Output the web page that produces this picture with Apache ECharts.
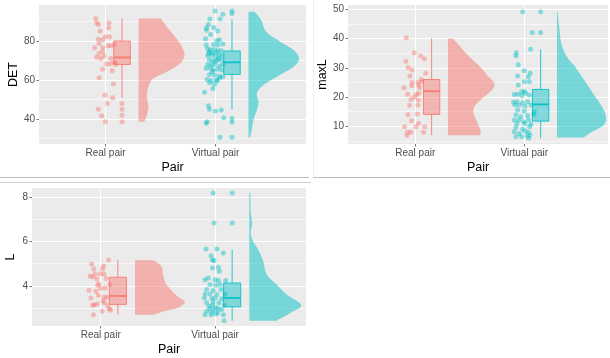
<!DOCTYPE html>
<html>
<head>
<meta charset="utf-8">
<script src="https://cdn.jsdelivr.net/npm/echarts@6.0.0/dist/echarts.min.js"></script>
<style>
html,body{margin:0;padding:0;background:#ffffff;}
#chart{width:610px;height:358px;}
</style>
</head>
<body>
<div id="chart"></div>
<script>
// ---------------- DATA ----------------
const categories = ['Real pair', 'Virtual pair'];
const xTickValues = [1, 2];

// DET panel
const detTicks = [40, 60, 80];
const detMinorTicks = [30, 50, 70, 90];
const detRealValues = [91.6, 89.4, 88.5, 89.4, 86.8, 85.1, 82.2, 80.9, 80.7, 82.2, 78.8, 76.6, 76.6, 77.6, 77.6, 78.3, 74.5, 73.7, 71.8, 72.3, 71.1, 71.1, 69.1, 68.2, 68.4, 68.0, 65.5, 64.8, 61.2, 58.0, 52.3, 50.9, 48.0, 45.0, 41.7, 38.6];
const detRealJitter = [-0.089, -0.080, -0.065, 0.032, 0.029, -0.050, -0.002, -0.065, -0.026, 0.038, -0.059, -0.098, -0.026, 0.023, 0.047, 0.080, -0.026, -0.059, -0.080, -0.014, -0.044, 0.047, 0.083, 0.011, 0.047, 0.095, -0.026, 0.062, -0.059, 0.071, -0.005, 0.065, 0.017, -0.065, -0.035, -0.002];
const detRealBox = [50.9, 68.0, 71.6, 80.0, 91.6];
const detRealOutliers = [48.0, 45.0, 41.9, 38.6];
const detRealViolinY = [91.6, 87.3, 82.2, 77.1, 72.8, 68.5, 64.3, 60.9, 56.6, 51.5, 46.3, 42.1, 38.6];
const detRealViolinW = [0.204, 0.258, 0.333, 0.394, 0.418, 0.379, 0.258, 0.136, 0.091, 0.076, 0.091, 0.076, 0.052];

const detVirtValues = [95.4, 93.8, 91.3, 91.3, 86.8, 87.0, 85.6, 85.1, 81.2, 80.2, 80.7, 78.3, 78.5, 76.1, 75.6, 75.7, 75.0, 75.0, 74.4, 73.7, 74.0, 72.5, 72.7, 72.0, 72.8, 72.5, 70.3, 69.9, 70.1, 70.3, 68.0, 67.7, 67.9, 67.2, 68.0, 66.0, 65.1, 65.6, 62.9, 62.6, 62.1, 61.7, 60.3, 59.8, 60.2, 61.0, 58.6, 57.8, 53.7, 46.8, 45.0, 44.1, 44.6, 40.7, 38.6, 37.8, 30.6, 78.0, 73.7, 71.1, 69.4, 64.3, 65.1, 66.0, 59.5, 55.7, 78.0, 83.4, 88.5];
const detVirtJitter = [-0.003, 0.067, 0.042, -0.052, -0.082, -0.015, -0.082, 0.021, -0.091, 0.012, 0.036, -0.018, 0.067, -0.070, -0.045, -0.009, 0.021, 0.052, -0.055, -0.024, 0.006, -0.070, -0.033, 0.003, 0.036, 0.058, -0.055, -0.024, 0.015, 0.052, -0.070, -0.039, -0.009, 0.036, 0.067, -0.045, -0.018, 0.021, -0.055, -0.009, 0.036, 0.067, -0.076, -0.039, 0.009, 0.039, -0.055, -0.009, -0.100, -0.064, -0.055, 0.000, 0.052, 0.076, -0.076, -0.085, 0.042, -0.085, -0.064, 0.027, -0.003, -0.030, 0.058, -0.085, 0.015, -0.024, 0.021, -0.045, -0.064];
const detVirtBox = [45.0, 62.9, 69.1, 74.9, 91.1];
const detVirtOutliers = [95.4, 94.2, 40.3, 38.3, 30.6];
const detVirtViolinY = [95.0, 90.8, 84.8, 79.7, 75.4, 71.1, 66.8, 61.7, 57.4, 53.2, 48.9, 44.6, 39.5, 34.4, 30.4];
const detVirtViolinW = [0.055, 0.115, 0.161, 0.288, 0.409, 0.460, 0.409, 0.258, 0.136, 0.076, 0.091, 0.076, 0.045, 0.030, 0.010];

// maxL panel
const maxlTicks = [10, 20, 30, 40, 50];
const maxlMinorTicks = [5, 15, 25, 35, 45];
const maxlRealValues = [40.2, 35.1, 34.1, 33.1, 32.2, 30.1, 29.2, 28.1, 27.2, 26.1, 25.0, 25.0, 25.2, 24.1, 23.2, 23.9, 23.2, 20.9, 21.0, 21.3, 19.2, 19.9, 19.0, 17.2, 17.3, 14.0, 14.2, 11.9, 11.1, 9.9, 9.9, 9.9, 8.0, 8.0, 8.0, 7.0];
const maxlRealJitter = [-0.083, -0.009, 0.049, 0.083, -0.086, -0.067, -0.031, 0.095, -0.049, 0.055, -0.031, 0.024, 0.061, 0.031, -0.104, -0.031, 0.040, 0.009, -0.070, 0.031, -0.040, -0.009, 0.028, -0.052, 0.024, -0.067, 0.018, -0.034, 0.031, -0.098, 0.006, 0.086, -0.040, -0.070, 0.076, -0.076];
const maxlRealBox = [7.0, 14.1, 22.0, 26.0, 40.0];
const maxlRealOutliers = [];
const maxlRealViolinY = [40.0, 37.2, 33.7, 30.3, 26.9, 24.4, 21.8, 19.0, 16.7, 14.4, 11.6, 8.7, 7.0];
const maxlRealViolinW = [0.046, 0.113, 0.199, 0.297, 0.373, 0.428, 0.388, 0.297, 0.242, 0.235, 0.266, 0.297, 0.297];

const maxlVirtValues = [49.1, 42.0, 36.3, 35.1, 34.1, 31.0, 29.0, 28.1, 27.2, 26.9, 25.2, 25.2, 24.1, 22.0, 21.8, 21.0, 21.3, 20.9, 20.5, 20.7, 18.2, 18.4, 18.1, 18.4, 17.3, 17.3, 16.9, 17.3, 15.6, 15.2, 15.0, 13.9, 13.3, 13.6, 14.1, 12.2, 12.2, 11.6, 12.2, 11.0, 11.0, 10.7, 9.6, 9.1, 9.9, 8.2, 7.6, 8.4, 8.0, 6.5, 6.5, 6.8, 7.1, 6.0];
const maxlVirtJitter = [-0.015, 0.073, 0.058, -0.073, -0.076, -0.055, 0.000, 0.055, -0.061, 0.037, 0.000, 0.046, -0.055, 0.000, -0.024, -0.061, 0.012, -0.092, -0.021, 0.046, -0.098, -0.067, -0.015, 0.031, -0.086, -0.046, 0.006, 0.061, -0.061, 0.000, 0.092, -0.076, -0.031, 0.031, 0.086, -0.092, -0.049, -0.006, 0.040, -0.067, 0.006, 0.061, -0.076, -0.015, 0.049, -0.092, -0.046, 0.006, 0.037, -0.076, -0.024, 0.024, 0.052, 0.040];
const maxlVirtBox = [6.0, 11.8, 17.5, 22.6, 36.3];
const maxlVirtOutliers = [49.1, 42.0];
const maxlVirtViolinY = [49.1, 44.0, 38.3, 33.7, 30.3, 26.9, 23.5, 20.1, 16.7, 13.3, 10.4, 8.2, 6.2];
const maxlVirtViolinW = [0.005, 0.021, 0.040, 0.092, 0.168, 0.229, 0.291, 0.352, 0.413, 0.450, 0.428, 0.321, 0.245];

// L panel
const lTicks = [4, 6, 8];
const lMinorTicks = [3, 5, 7];
const lRealValues = [5.17, 4.99, 4.90, 4.76, 4.76, 4.45, 4.54, 4.54, 4.54, 4.40, 4.31, 4.33, 4.09, 4.06, 4.03, 3.88, 3.81, 3.91, 3.76, 3.58, 3.46, 3.49, 3.49, 3.34, 3.16, 3.13, 3.19, 3.24, 3.12, 2.98, 2.91, 2.86, 2.71];
const lRealJitter = [0.070, -0.079, 0.026, -0.061, 0.015, -0.093, -0.050, -0.006, 0.029, -0.070, -0.035, 0.047, -0.015, 0.082, -0.026, 0.000, -0.102, 0.038, -0.041, -0.020, -0.085, 0.029, 0.053, 0.018, -0.055, -0.070, -0.029, 0.032, 0.061, 0.076, 0.085, 0.012, -0.064];
const lRealBox = [2.71, 3.17, 3.55, 4.39, 5.17];
const lRealOutliers = [];
const lRealViolinY = [5.15, 4.88, 4.51, 4.14, 3.84, 3.54, 3.28, 3.01, 2.86, 2.71];
const lRealViolinW = [0.166, 0.230, 0.245, 0.265, 0.312, 0.370, 0.437, 0.370, 0.254, 0.166];

const lVirtValues = [8.18, 6.83, 5.66, 5.66, 5.48, 5.36, 5.17, 5.14, 4.84, 4.81, 4.66, 4.36, 4.28, 4.28, 4.24, 4.24, 4.06, 4.03, 4.06, 3.84, 3.84, 3.79, 3.64, 3.64, 3.61, 3.64, 3.46, 3.43, 3.46, 3.42, 3.24, 3.28, 3.24, 3.09, 3.13, 3.04, 3.13, 2.98, 2.94, 2.98, 2.94, 2.86, 2.82, 2.79, 2.71, 2.71, 2.74, 2.71, 2.44];
const lVirtJitter = [-0.017, -0.009, -0.079, 0.017, 0.073, -0.035, -0.023, -0.009, 0.029, -0.023, 0.038, -0.058, -0.087, 0.000, 0.029, 0.093, -0.044, 0.006, 0.044, 0.052, -0.073, -0.015, -0.087, -0.044, 0.015, 0.087, -0.093, -0.029, 0.000, 0.058, -0.073, -0.015, 0.035, -0.052, -0.023, 0.006, 0.082, -0.044, -0.006, 0.029, 0.058, -0.073, -0.029, 0.023, -0.087, -0.035, 0.006, 0.073, 0.079];
const lVirtBox = [2.44, 3.06, 3.46, 4.13, 5.63];
const lVirtOutliers = [8.18, 6.83];
const lVirtViolinY = [8.18, 7.36, 6.82, 6.38, 6.00, 5.63, 5.11, 4.51, 4.06, 3.61, 3.16, 2.86, 2.44];
const lVirtViolinW = [0.010, 0.012, 0.025, 0.012, 0.035, 0.079, 0.122, 0.152, 0.239, 0.327, 0.452, 0.385, 0.239];

// ---------------- STYLE / LAYOUT ----------------
const FONT = '"Liberation Sans", Arial, Helvetica, sans-serif';
const COLORS = ['#F8766D', '#00BFC4'];
const BOX_OFFSET = 0.15, BOX_WIDTH = 0.15, VIOLIN_OFFSET = 0.3;

function rgba(hex, a) {
  const n = parseInt(hex.slice(1), 16);
  return 'rgba(' + ((n >> 16) & 255) + ',' + ((n >> 8) & 255) + ',' + (n & 255) + ',' + a + ')';
}

const panels = [
  {
    title: 'DET', grid: { left: 39, top: 5, width: 267, height: 139 },
    xMin: 0.395, xMax: 2.823, yMin: 27.2, yMax: 98.5, ticks: detTicks, minor: detMinorTicks, nameGap: 17,
    groups: [
      { values: detRealValues, jitter: detRealJitter, box: detRealBox, outliers: detRealOutliers, vy: detRealViolinY, vw: detRealViolinW },
      { values: detVirtValues, jitter: detVirtJitter, box: detVirtBox, outliers: detVirtOutliers, vy: detVirtViolinY, vw: detVirtViolinW }
    ]
  },
  {
    title: 'maxL', grid: { left: 348, top: 5, width: 260, height: 139 },
    xMin: 0.383, xMax: 2.768, yMin: 4.0, yMax: 51.4, ticks: maxlTicks, minor: maxlMinorTicks, nameGap: 18,
    groups: [
      { values: maxlRealValues, jitter: maxlRealJitter, box: maxlRealBox, outliers: maxlRealOutliers, vy: maxlRealViolinY, vw: maxlRealViolinW },
      { values: maxlVirtValues, jitter: maxlVirtJitter, box: maxlVirtBox, outliers: maxlVirtOutliers, vy: maxlVirtViolinY, vw: maxlVirtViolinW }
    ]
  },
  {
    title: 'L', grid: { left: 32, top: 188, width: 274, height: 138 },
    xMin: 0.399, xMax: 2.796, yMin: 2.2, yMax: 8.4, ticks: lTicks, minor: lMinorTicks, nameGap: 15,
    groups: [
      { values: lRealValues, jitter: lRealJitter, box: lRealBox, outliers: lRealOutliers, vy: lRealViolinY, vw: lRealViolinW },
      { values: lVirtValues, jitter: lVirtJitter, box: lVirtBox, outliers: lVirtOutliers, vy: lVirtViolinY, vw: lVirtViolinW }
    ]
  }
];

function smoothPath(start, pts, end) {
  let d = 'M' + start[0] + ',' + start[1] + ' L' + pts[0][0] + ',' + pts[0][1];
  for (let i = 0; i < pts.length - 1; i++) {
    const p0 = pts[i - 1] || pts[i], p1 = pts[i], p2 = pts[i + 1], p3 = pts[i + 2] || pts[i + 1];
    const c1 = [p1[0] + (p2[0] - p0[0]) / 6, p1[1] + (p2[1] - p0[1]) / 6];
    const c2 = [p2[0] - (p3[0] - p1[0]) / 6, p2[1] - (p3[1] - p1[1]) / 6];
    d += ' C' + c1[0] + ',' + c1[1] + ' ' + c2[0] + ',' + c2[1] + ' ' + p2[0] + ',' + p2[1];
  }
  d += ' L' + end[0] + ',' + end[1] + ' Z';
  return d;
}

const grids = [], xAxes = [], yAxes = [], series = [];

panels.forEach(function (p, gi) {
  grids.push(Object.assign({ show: true, backgroundColor: '#EBEBEB', borderWidth: 0, containLabel: false, outerBoundsMode: 'none' }, p.grid));
  xAxes.push({
    type: 'value', gridIndex: gi, min: p.xMin, max: p.xMax,
    name: 'Pair', nameLocation: 'middle', nameGap: 17,
    nameTextStyle: { fontFamily: FONT, fontSize: 12.5, color: '#000' },
    axisLine: { show: false },
    axisTick: { show: true, length: 2.5, customValues: xTickValues, lineStyle: { color: '#777', width: 1 } },
    axisLabel: { show: true, customValues: xTickValues, margin: 4, fontFamily: FONT, fontSize: 10, color: '#4D4D4D',
      formatter: function (v) { return categories[Math.round(v) - 1]; } },
    splitLine: { show: true, lineStyle: { color: '#FFFFFF', width: 1 } }
  });
  yAxes.push({
    type: 'value', gridIndex: gi, min: p.yMin, max: p.yMax,
    name: p.title, nameLocation: 'middle', nameGap: p.nameGap, nameRotate: 90,
    nameTextStyle: { fontFamily: FONT, fontSize: 12.5, color: '#000' },
    axisLine: { show: false },
    axisTick: { show: true, length: 2.5, customValues: p.ticks, lineStyle: { color: '#777', width: 1 } },
    axisLabel: { show: true, customValues: p.ticks, margin: 4, fontFamily: FONT, fontSize: 10, color: '#4D4D4D' },
    splitLine: { show: true, lineStyle: { color: '#FFFFFF', width: 1 } }
  });
});
panels.forEach(function (p, gi) {
  yAxes.push({
    type: 'value', gridIndex: gi, min: p.yMin, max: p.yMax,
    axisLine: { show: false },
    axisTick: { show: false, customValues: p.minor },
    axisLabel: { show: false, customValues: p.minor },
    splitLine: { show: true, lineStyle: { color: 'rgba(255,255,255,0.55)', width: 1 } }
  });
});

panels.forEach(function (p, gi) {
  p.groups.forEach(function (g, k) {
    const cat = k + 1;
    const col = COLORS[k];
    // half violin
    series.push({
      type: 'custom', xAxisIndex: gi, yAxisIndex: gi, silent: true, z: 2,
      data: [[cat + VIOLIN_OFFSET, g.vy[0]]],
      renderItem: function (params, api) {
        const base = api.value(0);
        const curve = g.vy.map(function (y, i) { return api.coord([base + g.vw[i], y]); });
        const start = api.coord([base, g.vy[0]]);
        const end = api.coord([base, g.vy[g.vy.length - 1]]);
        return { type: 'path', shape: { pathData: smoothPath(start, curve, end) }, style: { fill: rgba(col, 0.5), stroke: null } };
      }
    });
    // boxplot
    series.push({
      type: 'custom', xAxisIndex: gi, yAxisIndex: gi, silent: true, z: 3,
      data: [[cat + BOX_OFFSET].concat(g.box)],
      encode: { x: 0, y: [1, 2, 3, 4, 5] },
      renderItem: function (params, api) {
        const x = api.value(0);
        const half = api.size([BOX_WIDTH, 0])[0] / 2;
        const pMin = api.coord([x, api.value(1)]);
        const pQ1 = api.coord([x, api.value(2)]);
        const pMed = api.coord([x, api.value(3)]);
        const pQ3 = api.coord([x, api.value(4)]);
        const pMax = api.coord([x, api.value(5)]);
        const lineStyle = { stroke: rgba(col, 0.85), lineWidth: 1 };
        return { type: 'group', children: [
          { type: 'line', shape: { x1: pMin[0], y1: pMin[1], x2: pQ1[0], y2: pQ1[1] }, style: lineStyle },
          { type: 'line', shape: { x1: pQ3[0], y1: pQ3[1], x2: pMax[0], y2: pMax[1] }, style: lineStyle },
          { type: 'rect', shape: { x: pQ3[0] - half, y: pQ3[1], width: half * 2, height: pQ1[1] - pQ3[1] },
            style: { fill: rgba(col, 0.45), stroke: rgba(col, 0.85), lineWidth: 1 } },
          { type: 'line', shape: { x1: pMed[0] - half, y1: pMed[1], x2: pMed[0] + half, y2: pMed[1] },
            style: { stroke: rgba(col, 0.9), lineWidth: 1.8 } }
        ] };
      }
    });
    // jittered points
    series.push({
      type: 'scatter', xAxisIndex: gi, yAxisIndex: gi, silent: true, z: 4,
      symbol: 'circle', symbolSize: 5,
      itemStyle: { color: rgba(col, 0.55) },
      data: g.values.map(function (v, i) { return [cat + g.jitter[i], v]; })
    });
    // boxplot outliers
    series.push({
      type: 'scatter', xAxisIndex: gi, yAxisIndex: gi, silent: true, z: 4,
      symbol: 'circle', symbolSize: 5,
      itemStyle: { color: rgba(col, 0.55) },
      data: g.outliers.map(function (v) { return [cat + BOX_OFFSET, v]; })
    });
  });
});

const chart = echarts.init(document.getElementById('chart'), null, { renderer: 'canvas' });
chart.setOption({
  animation: false,
  backgroundColor: '#FFFFFF',
  textStyle: { fontFamily: FONT },
  grid: grids,
  xAxis: xAxes,
  yAxis: yAxes,
  series: series,
  graphic: [
    { type: 'line', silent: true, shape: { x1: 0, y1: 177.5, x2: 309, y2: 177.5 }, style: { stroke: '#BDBDBD', lineWidth: 1 } },
    { type: 'line', silent: true, shape: { x1: 0, y1: 182.5, x2: 311, y2: 182.5 }, style: { stroke: '#CFCFCF', lineWidth: 1 } },
    { type: 'line', silent: true, shape: { x1: 313, y1: 177.5, x2: 610, y2: 177.5 }, style: { stroke: '#BDBDBD', lineWidth: 1 } },
    { type: 'line', silent: true, shape: { x1: 313.5, y1: 0, x2: 313.5, y2: 177 }, style: { stroke: '#EFEFEF', lineWidth: 1 } }
  ]
});
</script>
</body>
</html>
